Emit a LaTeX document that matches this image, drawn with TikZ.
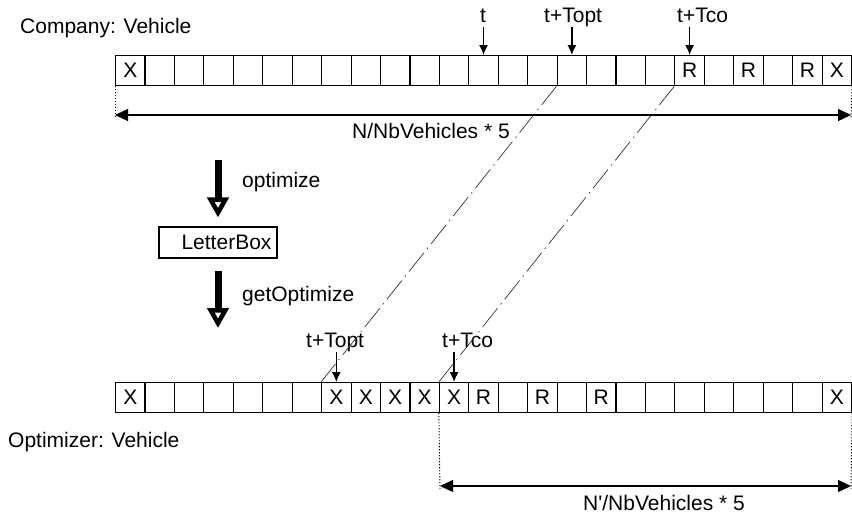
\documentclass[tikz,border=0pt]{standalone}
\usepackage{fontspec}
\setmainfont{Liberation Sans}
\usetikzlibrary{arrows.meta}
\begin{document}
\begin{tikzpicture}[x=1pt,y=-1pt,
  every node/.style={font=\fontsize{21}{25}\selectfont, inner sep=0pt},
  cell/.style={draw, line width=1.1pt, minimum width=29.44pt, minimum height=30pt, anchor=north west},
  txt/.style={anchor=base west},
  pointer/.style={line width=1.3pt, -{Latex[length=10pt,width=9pt]}},
  dimline/.style={line width=1.3pt, {Triangle[length=13pt,width=12pt]}-{Triangle[length=13pt,width=12pt]}},
  guide/.style={line width=0.9pt, dash pattern=on 1.2pt off 1.8pt},
  mapline/.style={line width=0.7pt, black!80, dash pattern=on 24pt off 5pt on 1.5pt off 5pt},
  bigarrow/.style={line width=7pt, -{Triangle[open, length=20pt, width=21pt, line width=4.5pt]}}]
\useasboundingbox (0,0) rectangle (852,517);

% company vehicle timeline
\foreach \i in {0,...,24}
  \node[cell] (a\i) at ({115+29.44*\i},55) {};
\foreach \i/\t in {0/X,19/R,21/R,23/R,24/X}
  \node at (a\i) {\t};

% optimizer vehicle timeline
\foreach \i in {0,...,24}
  \node[cell] (b\i) at ({115+29.44*\i},382) {};
\foreach \i/\t in {0/X,7/X,8/X,9/X,10/X,11/X,12/R,14/R,16/R,24/X}
  \node at (b\i) {\t};

% titles
\node[txt] (comp) at (20,33) {Company: Vehicle};
\node[txt] (optv) at (8,447) {Optimizer: Vehicle};

% time markers on the company timeline
\node[anchor=base] (lt) at (483,22) {t};
\node[txt] (ltopt) at (544,22) {t+Topt};
\node[txt] (ltco) at (677,22) {t+Tco};
\draw[pointer] ([yshift=28pt]a12.north) -- (a12.north);
\draw[pointer] ([yshift=28pt]a15.north) -- (a15.north);
\draw[pointer] ([yshift=28pt]a19.north) -- (a19.north);

% time markers on the optimizer timeline
\node[txt] (lbtopt) at (306,347) {t+Topt};
\node[txt] (lbtco) at (442,347) {t+Tco};
\draw[pointer] ([yshift=30pt]b7.north) -- (b7.north);
\draw[pointer] ([yshift=30pt]b11.north) -- (b11.north);

% correspondence between the two timelines
\draw[mapline] (a15.south west) -- (b7.north west);
\draw[mapline] (a19.south west) -- (b11.north west);

% span of the company timeline
\coordinate (d1) at (115,115);
\coordinate (d2) at (851,115);
\draw[guide] (a0.south west) -- (115,118);
\draw[guide] (a24.south east) -- (851,118);
\draw[dimline] (d1) -- (d2);
\node[txt] (nspan) at (352,138) {N/NbVehicles * 5};

% span of the optimizer timeline
\coordinate (e1) at (440,486);
\coordinate (e2) at (851,486);
\draw[guide] (b11.south west) -- (440,489);
\draw[guide] (b24.south east) -- (851,489);
\draw[dimline] (e1) -- (e2);
\node[txt] (npspan) at (583,510) {N\textquotesingle/NbVehicles * 5};

% letter box exchange
\node[draw, line width=1.1pt, minimum width=118pt, minimum height=31pt] (lb) at (218,242.5) {\hspace*{17pt}LetterBox};
\coordinate (o1) at (218,160);
\coordinate (o2) at (218,328);
\draw[bigarrow, shorten >=9pt] (o1) -- (lb.north);
\draw[bigarrow, shorten <=12pt] (lb.south) -- (o2);
\node[txt] (lopt) at (242,187) {optimize};
\node[txt] (lgopt) at (242,301) {getOptimize};
\end{tikzpicture}
\end{document}
